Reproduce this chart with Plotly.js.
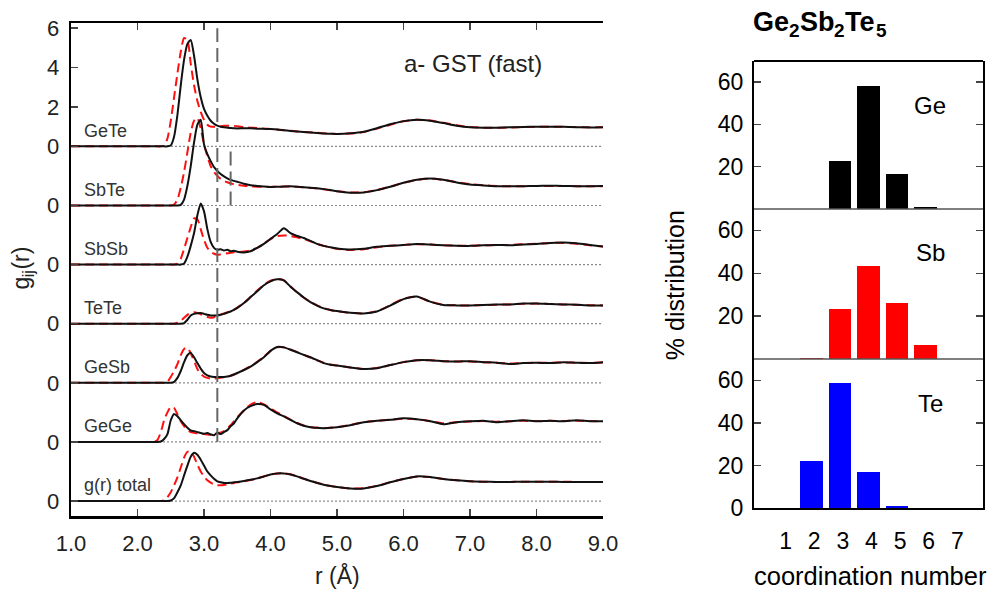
<!DOCTYPE html>
<html><head><meta charset="utf-8">
<script src="https://cdn.plot.ly/plotly-3.0.1.min.js"></script>
<style>html,body{margin:0;padding:0;background:#fff}#chart{width:992px;height:593px}</style>
</head><body><div id="chart"></div>
<script>
// ---- left panel: partial pair correlation functions ----
const r = [1.0,1.5,2.0,2.2,
  2.25,2.3,2.35,2.4,2.45,2.5,2.55,2.6,2.65,2.7,2.75,2.8,2.85,2.9,2.95,3.0,3.05,3.1,3.15,3.2,3.25,3.3,3.35,3.4,3.45,3.5,
  3.6,3.7,3.8,3.9,4.0,4.1,4.2,4.3,4.4,4.5,4.6,4.7,4.8,4.9,5.0,
  5.2,5.4,5.6,5.8,6.0,6.2,6.4,6.6,6.8,7.0,7.2,7.4,7.6,7.8,8.0,8.2,8.4,8.6,8.8,9.0];

const pairNames = ['GeTe','SbTe','SbSb','TeTe','GeSb','GeGe','g(r) total'];
const pairOffsets = [18,15,12,9,6,3,0];

const gGeTeSolid = [0,0,0,0,
  0,0,0,0,0,0.05,0.5,1.6,3.1,4.4,5.2,5.4,4.6,3.4,2.5,1.9,1.55,1.3,1.15,1.05,1.0,0.97,0.95,0.93,0.92,0.91,
  0.92,0.92,0.9,0.89,0.88,0.86,0.82,0.78,0.75,0.73,0.7,0.68,0.65,0.64,0.63,
  0.66,0.74,0.92,1.12,1.28,1.35,1.3,1.18,1.05,0.97,0.95,0.95,0.97,0.98,1.0,1.0,0.99,0.97,0.96,0.97];
const gGeTeDashed = [0,0,0,0,
  0,0,0,0.05,0.4,1.3,2.5,3.7,4.8,5.5,5.4,4.2,3.1,2.3,1.75,1.35,1.1,1.0,1.0,1.0,1.02,1.04,1.05,1.05,1.04,1.02,
  0.98,0.95,0.93,0.9,0.88,0.85,0.82,0.79,0.76,0.73,0.71,0.69,0.66,0.64,0.63,
  0.65,0.73,0.9,1.1,1.27,1.35,1.31,1.2,1.07,0.98,0.95,0.94,0.96,0.98,0.99,1.0,0.99,0.98,0.97,0.97];

const gSbTeSolid = [0,0,0,0,
  0,0,0,0,0,0,0,0,0.03,0.3,1.0,2.0,3.2,4.1,4.35,3.1,2.6,2.25,1.95,1.75,1.6,1.48,1.38,1.3,1.25,1.2,
  1.1,1.03,0.99,0.96,0.94,0.95,0.96,0.97,0.95,0.92,0.9,0.87,0.83,0.78,0.72,
  0.65,0.66,0.78,0.95,1.15,1.3,1.37,1.3,1.17,1.07,1.02,0.98,0.97,0.98,0.99,1.0,0.99,0.98,0.98,0.99];
const gSbTeDashed = [0,0,0,0,
  0,0,0,0,0,0,0.05,0.3,0.9,1.7,2.7,3.7,4.3,4.45,3.9,3.1,2.5,2.0,1.7,1.5,1.35,1.25,1.18,1.12,1.08,1.05,
  1.0,0.97,0.95,0.94,0.94,0.95,0.96,0.96,0.95,0.92,0.89,0.86,0.82,0.77,0.72,
  0.66,0.67,0.78,0.96,1.15,1.3,1.36,1.3,1.18,1.08,1.02,0.99,0.97,0.98,0.99,0.99,0.99,0.98,0.98,0.98];

const gSbSbSolid = [0,0,0,0,
  0,0,0,0,0,0,0,0,0,0.05,0.4,0.95,1.6,2.5,3.1,2.7,1.8,1.15,0.85,0.75,0.78,0.72,0.75,0.68,0.7,0.65,
  0.62,0.68,0.85,1.05,1.3,1.55,1.85,1.6,1.45,1.35,1.2,1.05,0.95,0.88,0.82,
  0.76,0.8,0.9,0.95,1.0,1.05,1.02,0.98,0.96,0.95,0.98,1.0,0.98,1.02,1.05,1.1,1.12,1.08,1.0,0.92];
const gSbSbDashed = [0,0,0,0,
  0,0,0,0,0,0,0,0.05,0.3,0.8,1.35,1.9,2.35,2.3,1.8,1.25,0.85,0.65,0.55,0.5,0.52,0.55,0.58,0.6,0.62,0.63,
  0.66,0.72,0.85,1.05,1.3,1.45,1.48,1.45,1.38,1.3,1.18,1.05,0.95,0.87,0.8,
  0.74,0.78,0.88,0.95,1.0,1.03,1.02,0.98,0.96,0.96,0.98,0.99,1.0,1.03,1.06,1.1,1.1,1.06,0.98,0.92];

const gTeTeSolid = [0,0,0,0,
  0,0,0,0,0,0,0,0,0,0.03,0.2,0.42,0.5,0.53,0.54,0.5,0.45,0.42,0.42,0.42,0.45,0.5,0.56,0.62,0.7,0.8,
  1.05,1.35,1.65,1.95,2.15,2.25,2.2,1.88,1.6,1.33,1.1,0.92,0.78,0.7,0.64,
  0.56,0.52,0.62,0.92,1.25,1.38,1.12,0.95,0.93,0.93,0.95,0.97,0.98,1.02,1.03,1.0,0.98,0.96,0.93,0.93];
const gTeTeDashed = [0,0,0,0,
  0,0,0,0,0,0,0,0.05,0.15,0.3,0.45,0.55,0.58,0.55,0.48,0.4,0.34,0.3,0.33,0.4,0.46,0.52,0.58,0.64,0.72,0.82,
  1.06,1.36,1.68,1.97,2.18,2.27,2.2,1.9,1.58,1.32,1.1,0.93,0.79,0.7,0.63,
  0.55,0.52,0.63,0.94,1.27,1.37,1.12,0.96,0.93,0.93,0.95,0.96,0.98,1.01,1.02,1.0,0.98,0.96,0.94,0.93];

const gGeSbSolid = [0,0,0,0,
  0,0,0,0,0,0,0.05,0.25,0.6,1.05,1.4,1.52,1.3,1.0,0.72,0.5,0.38,0.32,0.3,0.3,0.3,0.3,0.32,0.36,0.42,0.5,
  0.65,0.82,1.05,1.3,1.62,1.82,1.8,1.68,1.55,1.42,1.3,1.15,1.0,0.92,0.88,
  0.78,0.7,0.74,0.9,1.05,1.15,1.15,1.1,1.08,1.1,1.05,1.02,0.95,1.0,1.02,1.0,1.05,1.02,1.0,1.05];
const gGeSbDashed = [0,0,0,0,
  0,0,0,0,0.05,0.3,0.6,0.95,1.4,1.72,1.78,1.5,1.1,0.7,0.45,0.32,0.25,0.22,0.22,0.24,0.26,0.28,0.31,0.36,0.42,0.5,
  0.66,0.84,1.07,1.33,1.62,1.8,1.8,1.7,1.56,1.42,1.28,1.14,1.02,0.93,0.88,
  0.78,0.7,0.75,0.9,1.05,1.14,1.15,1.1,1.08,1.08,1.05,1.02,0.98,1.0,1.02,1.02,1.03,1.02,1.01,1.03];

const gGeGeSolid = [0,0,0,0,
  0,0,0.02,0.15,0.4,1.1,1.42,1.3,1.1,0.9,0.72,0.58,0.55,0.5,0.45,0.42,0.45,0.38,0.34,0.48,0.4,0.5,0.6,0.8,0.95,1.2,
  1.6,1.82,1.92,1.88,1.65,1.45,1.3,1.12,0.95,0.82,0.75,0.72,0.7,0.72,0.75,
  0.85,1.0,1.08,1.12,1.2,1.15,1.05,0.9,1.0,1.05,1.08,1.0,1.05,1.1,1.05,1.08,1.05,1.1,1.05,1.05];
const gGeGeDashed = [0,0,0,0,
  0,0.1,0.5,1.1,1.5,1.78,1.72,1.4,1.05,0.8,0.6,0.5,0.46,0.43,0.41,0.4,0.38,0.37,0.38,0.42,0.48,0.55,0.68,0.85,1.05,1.25,
  1.6,1.9,2.03,1.9,1.7,1.5,1.32,1.13,0.96,0.83,0.76,0.72,0.71,0.72,0.75,
  0.86,1.0,1.08,1.13,1.18,1.15,1.06,0.95,1.0,1.04,1.06,1.03,1.05,1.08,1.06,1.07,1.06,1.08,1.06,1.05];

const gTotalSolid = [0,0,0,0,
  0,0,0,0,0,0.03,0.15,0.45,0.8,1.3,1.8,2.25,2.45,2.35,2.1,1.8,1.5,1.3,1.13,1.0,0.95,0.92,0.92,0.93,0.95,0.97,
  1.02,1.08,1.15,1.25,1.35,1.4,1.4,1.35,1.25,1.13,1.02,0.92,0.83,0.76,0.71,
  0.64,0.64,0.76,0.95,1.12,1.25,1.22,1.12,1.05,1.0,0.98,0.97,0.97,0.98,0.98,0.98,0.97,0.97,0.97,0.97];
const gTotalDashed = [0,0,0,0,
  0,0,0,0.03,0.2,0.45,0.8,1.2,1.7,2.2,2.5,2.52,2.25,1.85,1.5,1.25,1.05,0.93,0.85,0.8,0.8,0.82,0.85,0.88,0.92,0.95,
  1.0,1.07,1.15,1.25,1.34,1.4,1.41,1.36,1.26,1.14,1.03,0.93,0.84,0.77,0.71,
  0.64,0.65,0.77,0.96,1.12,1.24,1.22,1.12,1.05,1.0,0.98,0.97,0.97,0.98,0.98,0.98,0.98,0.97,0.97,0.97];

const solidSeries = [gGeTeSolid,gSbTeSolid,gSbSbSolid,gTeTeSolid,gGeSbSolid,gGeGeSolid,gTotalSolid];
const dashedSeries = [gGeTeDashed,gSbTeDashed,gSbSbDashed,gTeTeDashed,gGeSbDashed,gGeGeDashed,gTotalDashed];

const cutoffLong = 3.2;   // long vertical dashed marker
const cutoffShort = 3.4;  // short marker in SbTe
const xTickVals = [1,2,3,4,5,6,7,8,9];
const xTickText = ['1.0','2.0','3.0','4.0','5.0','6.0','7.0','8.0','9.0'];

// ---- right panel: coordination number distributions ----
const coordNumbers = [1,2,3,4,5,6,7];
const coordGe = [0,0,22.7,58.4,16.6,0.9,0];
const coordSb = [0,0.3,23.5,43.4,26.0,6.4,0];
const coordTe = [0,22.2,58.8,16.7,0.8,0,0];

const FONT = 'Liberation Sans, Arial, Helvetica, sans-serif';
const traces = [];
pairNames.forEach((name,i)=>{
  const off = pairOffsets[i];
  traces.push({x:r, y:dashedSeries[i].map(v=>v+off), type:'scatter', mode:'lines',
    line:{color:'#ff1010', width:2, dash:'9px,5px', shape:'spline', smoothing:0.6},
    hoverinfo:'skip', showlegend:false, xaxis:'x', yaxis:'y'});
});
pairNames.forEach((name,i)=>{
  const off = pairOffsets[i];
  traces.push({x:r, y:solidSeries[i].map(v=>v+off), type:'scatter', mode:'lines',
    line:{color:'#111', width:2, shape:'spline', smoothing:0.6},
    name:name, showlegend:false, xaxis:'x', yaxis:'y'});
});
const barW = 0.79;
traces.push({type:'bar', x:coordNumbers, y:coordGe, width:barW, marker:{color:'#000', line:{width:0}}, xaxis:'x3', yaxis:'y3', showlegend:false, name:'Ge'});
traces.push({type:'bar', x:coordNumbers, y:coordSb, width:barW, marker:{color:'#ff0000', line:{width:0}}, xaxis:'x3', yaxis:'y4', showlegend:false, name:'Sb'});
traces.push({type:'bar', x:coordNumbers, y:coordTe, width:barW, marker:{color:'#0000ff', line:{width:0}}, xaxis:'x3', yaxis:'y5', showlegend:false, name:'Te'});

// left y ticks: labelled "0" at each baseline, 2/4/6 for GeTe; unlabelled ticks on a twin axis
const yTickVals = [], yTickText = [], yMinorVals = [];
pairOffsets.slice().reverse().forEach(off=>{
  yTickVals.push(off); yTickText.push('0');
  if (off === 18) {
    [2,4,6].forEach(k=>{ yTickVals.push(off+k); yTickText.push(String(k)); });
    [1,3,5].forEach(k=> yMinorVals.push(off+k));
  } else {
    yMinorVals.push(off+2);
  }
});

const shapes = [];
pairOffsets.forEach(off=>{
  shapes.push({type:'line', xref:'x', yref:'y', x0:1, x1:9, y0:off, y1:off,
    line:{color:'#8a8a8a', width:1.2, dash:'2px,2px'}, layer:'below'});
});
shapes.push({type:'line', xref:'x', yref:'y', x0:cutoffLong, x1:cutoffLong, y0:pairOffsets[5], y1:24,
  line:{color:'#666', width:2, dash:'14px,6px'}});
shapes.push({type:'line', xref:'x', yref:'y', x0:cutoffShort, x1:cutoffShort, y0:pairOffsets[1], y1:pairOffsets[0],
  line:{color:'#666', width:2, dash:'14px,6px'}});
// right panel frame: top border and separators
const rx0 = 0.7601, rx1 = 0.9909;
shapes.push({type:'line', xref:'paper', yref:'paper', x0:rx0, x1:rx1, y0:0.8971, y1:0.8971, line:{color:'#000', width:2}});
shapes.push({type:'line', xref:'paper', yref:'paper', x0:rx0, x1:rx1, y0:0.6476, y1:0.6476, line:{color:'#555', width:1.5}});
shapes.push({type:'line', xref:'paper', yref:'paper', x0:rx0, x1:rx1, y0:0.3946, y1:0.3946, line:{color:'#555', width:1.5}});

const W = 992, H = 593;
const annotations = [];
const txt = (o)=>Object.assign({showarrow:false, borderpad:0, borderwidth:0}, o);
pairNames.forEach((name,i)=>{
  annotations.push(txt({xref:'x', yref:'y', x:1.2, y:pairOffsets[i]+0.8, text:name,
    xanchor:'left', yanchor:'middle', font:{size:18, color:'#333', family:FONT}}));
});
annotations.push(txt({xref:'x', yref:'y', x:6.0, y:22.2, text:'a- GST (fast)',
  xanchor:'left', yanchor:'middle', font:{size:24, color:'#222', family:FONT}}));
annotations.push(txt({xref:'paper', yref:'paper', x:0.3402, y:0.0287, text:'r (Å)',
  xanchor:'center', yanchor:'middle', font:{size:23, color:'#222', family:FONT}}));
// y title g_ij(r), rotated, built from pieces (subscript drawn smaller and shifted)
[['g',21,283.6,23],['ij',28.5,273.7,16],['(r)',21,258.6,23]].forEach(([t,px,py,s])=>{
  annotations.push(txt({xref:'paper', yref:'paper', x:px/W, y:1-py/H, text:t, textangle:-90,
    xanchor:'center', yanchor:'middle', font:{size:s, color:'#222', family:FONT}}));
});
// bold formula title Ge2Sb2Te5 built from pieces
[['Ge',753,21.5,27],['2',789,30.5,19],['Sb',799.6,21.5,27],['2',834.1,30.5,19],['Te',844.7,21.5,27],['5',876.2,30.5,19]]
  .forEach(([t,px,py,s])=>{
  annotations.push(txt({xref:'paper', yref:'paper', x:px/W, y:1-py/H, text:'<b>'+t+'</b>',
    xanchor:'left', yanchor:'middle', font:{size:s, color:'#000', family:FONT}}));
});
[['Ge',0.8229],['Sb',0.5734],['Te',0.3204]].forEach(([t,y])=>{
  annotations.push(txt({xref:'paper', yref:'paper', x:0.9375, y:y, text:t,
    xanchor:'center', yanchor:'middle', font:{size:24, color:'#000', family:FONT}}));
});
annotations.push(txt({xref:'paper', yref:'paper', x:0.6804, y:0.519, text:'% distribution', textangle:-90,
  xanchor:'center', yanchor:'middle', font:{size:25, color:'#000', family:FONT}}));
annotations.push(txt({xref:'paper', yref:'paper', x:0.8775, y:0.0287, text:'coordination number',
  xanchor:'center', yanchor:'middle', font:{size:25.5, color:'#000', family:FONT}}));

const rightY = (dom, vals)=>({domain:dom, anchor:'x3', range:[0,70], tickvals:vals,
  ticks:'inside', ticklen:7, tickwidth:1.5, showline:true, linewidth:2, linecolor:'#000', mirror:'ticks',
  showgrid:false, zeroline:false, tickfont:{size:23, color:'#000', family:FONT}, ticklabelstandoff:4});

const layout = {
  width:W, height:H, margin:{l:0,r:0,t:0,b:0}, paper_bgcolor:'#fff', plot_bgcolor:'rgba(0,0,0,0)',
  font:{family:FONT}, showlegend:false, bargap:0,
  xaxis:{domain:[0.0716,0.6079], range:[1,9], tickvals:xTickVals, ticktext:xTickText, anchor:'y',
    ticks:'inside', ticklen:7, tickwidth:1.5, showline:true, linewidth:2.5, linecolor:'#000', mirror:'ticks',
    showgrid:false, zeroline:false, tickfont:{size:22, color:'#222', family:FONT}, ticklabelstandoff:6},
  yaxis:{domain:[0.1298,0.9612], range:[-0.76,24.26], tickvals:yTickVals, ticktext:yTickText, anchor:'x',
    ticks:'inside', ticklen:7, tickwidth:1.5, showline:true, linewidth:2.5, linecolor:'#000',
    showgrid:false, zeroline:false, tickfont:{size:22, color:'#222', family:FONT}, ticklabelstandoff:5},
  yaxis6:{overlaying:'y', side:'left', anchor:'x', range:[-0.76,24.26], tickvals:yMinorVals,
    ticks:'inside', ticklen:7, tickwidth:1.5, showline:false, tickcolor:'#000',
    showticklabels:false, showgrid:false, zeroline:false},
  yaxis2:{overlaying:'y', side:'right', anchor:'x', range:[-0.76,24.26], tick0:0, dtick:1,
    ticks:'inside', ticklen:7, tickwidth:1.5, showline:true, linewidth:2.5, linecolor:'#000',
    showticklabels:false, showgrid:false, zeroline:false},
  xaxis3:{domain:[rx0,rx1], range:[0,8], anchor:'y5', tickvals:coordNumbers, ticks:'',
    showline:true, linewidth:2, linecolor:'#000', showgrid:false, zeroline:false,
    tickfont:{size:23, color:'#000', family:FONT}, ticklabelstandoff:11, ticklabelshift:3},
  yaxis3:rightY([0.6476,0.8971],[20,40,60]),
  yaxis4:rightY([0.3946,0.6476],[20,40,60]),
  yaxis5:rightY([0.1433,0.3946],[0,20,40,60]),
  shapes:shapes, annotations:annotations
};
Plotly.newPlot('chart', traces, layout, {displayModeBar:false, staticPlot:true});
</script></body></html>
